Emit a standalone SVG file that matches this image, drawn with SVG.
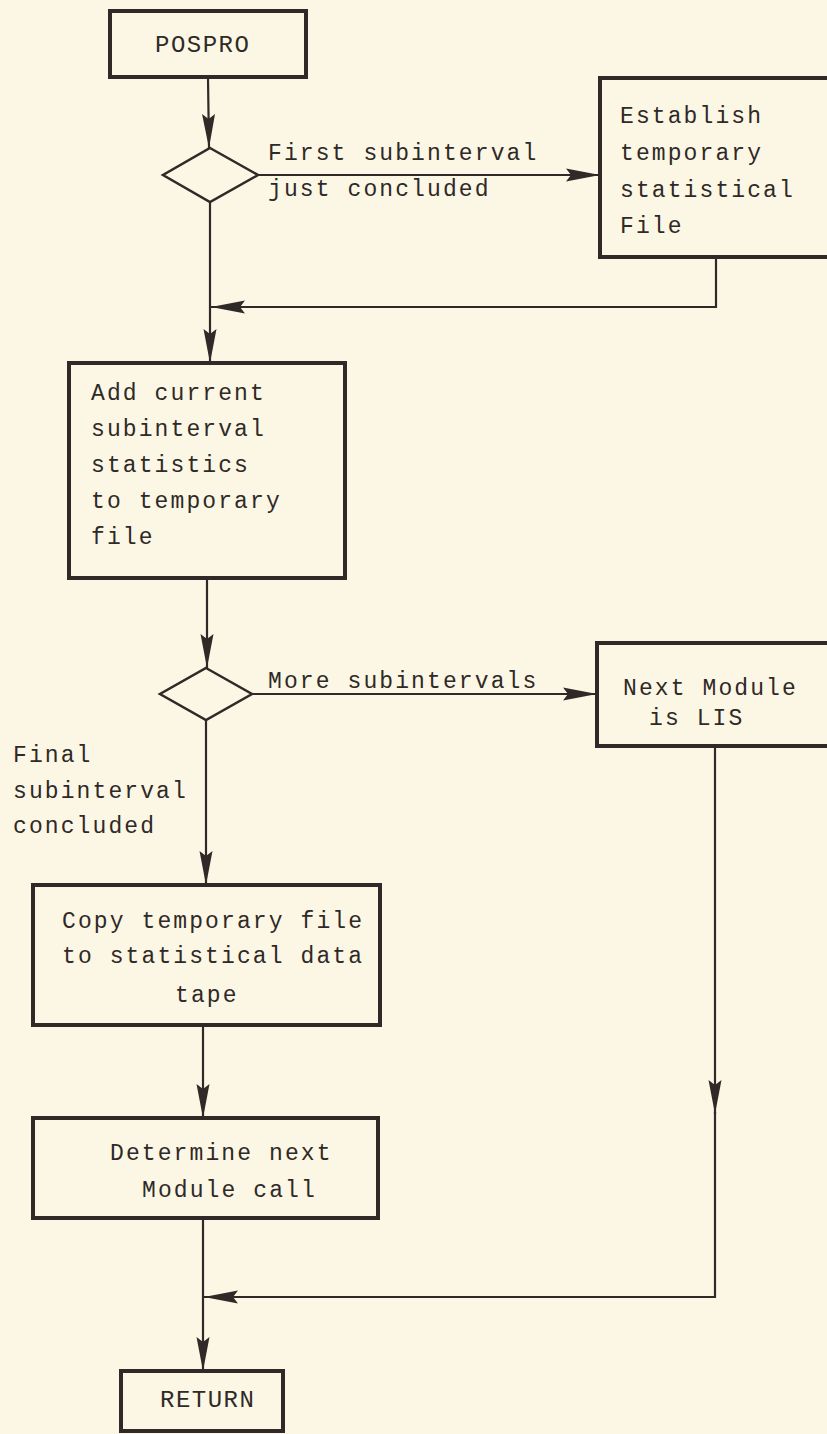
<svg xmlns="http://www.w3.org/2000/svg" width="827" height="1434" viewBox="0 0 827 1434">
<defs>
<style>
.bg{fill:#fcf7e5}
.box{fill:none;stroke:#2f2927;stroke-width:4}
.dia{fill:none;stroke:#2f2927;stroke-width:2.5}
.c{fill:none;stroke:#2f2927;stroke-width:2.2}
.t{font-family:"Liberation Mono","Courier New",monospace;font-size:23px;letter-spacing:2.1px;fill:#2f2927}
.k{font-family:"Liberation Mono","Courier New",monospace;font-size:24px;letter-spacing:1.5px;fill:#2f2927}
</style>
<marker id="ah" markerUnits="userSpaceOnUse" markerWidth="40" markerHeight="16" refX="34" refY="6.5" orient="auto" overflow="visible">
<path d="M0,0 L34,6.5 L0,13 L5,6.5 Z" fill="#2f2927"/>
</marker>
</defs>
<rect class="bg" x="0" y="0" width="827" height="1434"/>
<g id="connectors">
<path class="c" d="M208,78 L209,148" marker-end="url(#ah)"/>
<path class="c" d="M258,175 L600,175" marker-end="url(#ah)"/>
<path class="c" d="M210,202 L210,363" marker-end="url(#ah)"/>
<path class="c" d="M716,257 L716,307 L211,307" marker-end="url(#ah)"/>
<path class="c" d="M207,578 L207,668" marker-end="url(#ah)"/>
<path class="c" d="M252,694 L597,694" marker-end="url(#ah)"/>
<path class="c" d="M206,720 L206,885" marker-end="url(#ah)"/>
<path class="c" d="M203,1025 L203,1118" marker-end="url(#ah)"/>
<path class="c" d="M203,1218 L203,1371" marker-end="url(#ah)"/>
<path class="c" d="M715,746 L715,1114" marker-end="url(#ah)"/>
<path class="c" d="M715,1112 L715,1297 L204,1297" marker-end="url(#ah)"/>
</g>
<g id="pospro">
<rect class="box" x="110" y="11" width="196" height="66"/>
<text class="k" x="155" y="52">POSPRO</text>
</g>
<g id="decision1">
<polygon class="dia" points="210,148 258,175 210,202 163,175"/>
<text class="t" x="268" y="160">First subinterval</text>
<text class="t" x="268" y="196">just concluded</text>
</g>
<g id="establish">
<rect class="box" x="600" y="78" width="260" height="179"/>
<text class="t" x="620" y="123">Establish</text>
<text class="t" x="620" y="160">temporary</text>
<text class="t" x="620" y="197">statistical</text>
<text class="t" x="620" y="233">File</text>
</g>
<g id="addcurrent">
<rect class="box" x="69" y="363" width="276" height="215"/>
<text class="t" x="91" y="400">Add current</text>
<text class="t" x="91" y="436">subinterval</text>
<text class="t" x="91" y="472">statistics</text>
<text class="t" x="91" y="508">to temporary</text>
<text class="t" x="91" y="544">file</text>
</g>
<g id="decision2">
<polygon class="dia" points="206,668 252,694 206,720 160,694"/>
<text class="t" x="268" y="688">More subintervals</text>
<text class="t" x="13" y="762">Final</text>
<text class="t" x="13" y="798">subinterval</text>
<text class="t" x="13" y="833">concluded</text>
</g>
<g id="nextmodule">
<rect class="box" x="597" y="643" width="263" height="103"/>
<text class="t" x="623" y="695">Next Module</text>
<text class="t" x="649" y="725">is LIS</text>
</g>
<g id="copy">
<rect class="box" x="33" y="885" width="347" height="140"/>
<text class="t" x="62" y="928">Copy temporary file</text>
<text class="t" x="62" y="963">to statistical data</text>
<text class="t" x="175" y="1002">tape</text>
</g>
<g id="determine">
<rect class="box" x="33" y="1118" width="345" height="100"/>
<text class="t" x="110" y="1160">Determine next</text>
<text class="t" x="142" y="1197">Module call</text>
</g>
<g id="return">
<rect class="box" x="121" y="1371" width="162" height="60"/>
<text class="k" x="160" y="1407">RETURN</text>
</g>
</svg>
